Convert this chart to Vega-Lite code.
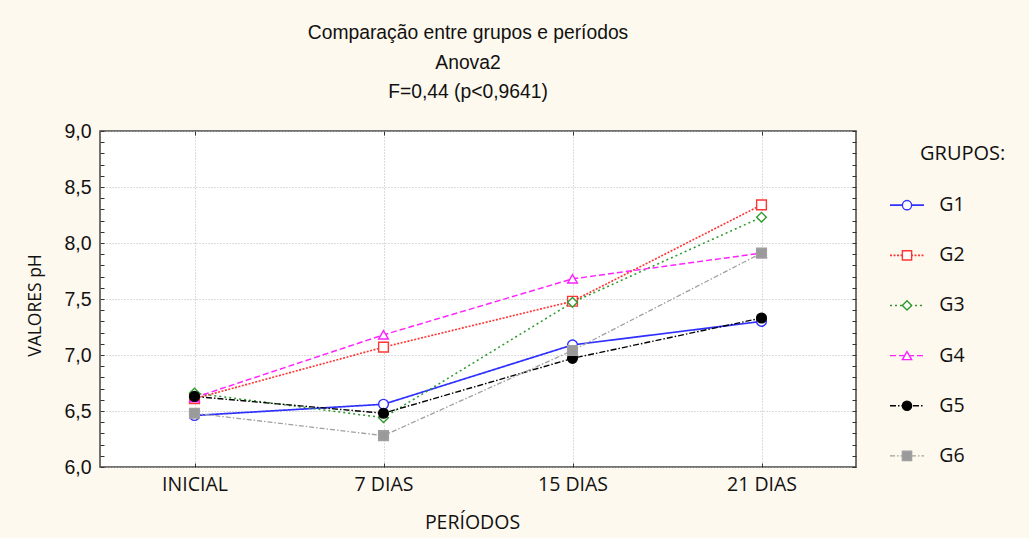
{
  "$schema": "https://vega.github.io/schema/vega-lite/v6.json",
  "autosize": "none",
  "padding": {"left": 100, "top": 131, "right": 929, "bottom": 71},
  "background": "#fef9ee",
  "bounds": "flush",
  "spacing": 0,
  "datasets": {
    "ph": [
      {"periodo": "INICIAL", "grupo": "G1", "ph": 6.46},
      {"periodo": "7 DIAS", "grupo": "G1", "ph": 6.56},
      {"periodo": "15 DIAS", "grupo": "G1", "ph": 7.09},
      {"periodo": "21 DIAS", "grupo": "G1", "ph": 7.30},
      {"periodo": "INICIAL", "grupo": "G2", "ph": 6.61},
      {"periodo": "7 DIAS", "grupo": "G2", "ph": 7.07},
      {"periodo": "15 DIAS", "grupo": "G2", "ph": 7.48},
      {"periodo": "21 DIAS", "grupo": "G2", "ph": 8.34},
      {"periodo": "INICIAL", "grupo": "G3", "ph": 6.66},
      {"periodo": "7 DIAS", "grupo": "G3", "ph": 6.44},
      {"periodo": "15 DIAS", "grupo": "G3", "ph": 7.47},
      {"periodo": "21 DIAS", "grupo": "G3", "ph": 8.23},
      {"periodo": "INICIAL", "grupo": "G4", "ph": 6.62},
      {"periodo": "7 DIAS", "grupo": "G4", "ph": 7.18},
      {"periodo": "15 DIAS", "grupo": "G4", "ph": 7.68},
      {"periodo": "21 DIAS", "grupo": "G4", "ph": 7.91},
      {"periodo": "INICIAL", "grupo": "G5", "ph": 6.63},
      {"periodo": "7 DIAS", "grupo": "G5", "ph": 6.48},
      {"periodo": "15 DIAS", "grupo": "G5", "ph": 6.97},
      {"periodo": "21 DIAS", "grupo": "G5", "ph": 7.33},
      {"periodo": "INICIAL", "grupo": "G6", "ph": 6.48},
      {"periodo": "7 DIAS", "grupo": "G6", "ph": 6.28},
      {"periodo": "15 DIAS", "grupo": "G6", "ph": 7.04},
      {"periodo": "21 DIAS", "grupo": "G6", "ph": 7.91}
    ],
    "grupos": [
      {"grupo": "G1"}, {"grupo": "G2"}, {"grupo": "G3"},
      {"grupo": "G4"}, {"grupo": "G5"}, {"grupo": "G6"}
    ]
  },
  "hconcat": [
    {
      "width": 756,
      "height": 336,
      "title": {
        "text": ["Comparação entre grupos e períodos", "Anova2", "F=0,44 (p<0,9641)"],
        "font": "Liberation Sans",
        "fontSize": 19.3,
        "fontWeight": "normal",
        "lineHeight": 29.5,
        "color": "#111111",
        "frame": "group",
        "anchor": "middle",
        "dx": -10,
        "offset": 18.5
      },
      "view": {"fill": "white", "stroke": "#444444", "strokeWidth": 1.5},
      "data": {"name": "ph"},
      "layer": [
        {
          "mark": {"type": "line"},
          "encoding": {
            "x": {
              "field": "periodo", "type": "ordinal",
              "sort": ["INICIAL", "7 DIAS", "15 DIAS", "21 DIAS"],
              "scale": {"type": "point", "padding": 0.5},
              "axis": {
                "orient": "bottom", "title": "PERÍODOS", "labelAngle": 0,
                "domain": false, "tickSize": -4, "tickColor": "#333333",
                "grid": true, "gridDash": [1, 2], "gridColor": "#b8b8b8", "gridWidth": 1,
                "labelFont": "Open Sans", "labelFontSize": 19.5, "labelColor": "#111111", "labelPadding": 12,
                "titleFont": "Open Sans", "titleFontSize": 19.5, "titleFontWeight": "normal", "titleColor": "#111111", "titlePadding": 20,
                "titleX": 372
              }
            },
            "y": {
              "field": "ph", "type": "quantitative",
              "scale": {"domain": [6, 9], "nice": false, "zero": false},
              "axis": {
                "orient": "left", "title": "VALORES pH",
                "values": [6.0, 6.1, 6.2, 6.3, 6.4, 6.5, 6.6, 6.7, 6.8, 6.9, 7.0, 7.1, 7.2, 7.3, 7.4, 7.5, 7.6, 7.7, 7.8, 7.9, 8.0, 8.1, 8.2, 8.3, 8.4, 8.5, 8.6, 8.7, 8.8, 8.9, 9.0],
                "labelExpr": "abs(datum.value*2 - round(datum.value*2)) < 0.01 ? replace(format(datum.value, '.1f'), '.', ',') : ''",
                "labelOverlap": false,
                "domain": false, "tickSize": -4, "tickColor": "#333333",
                "grid": true, "gridDash": [1, 2], "gridColor": "#b8b8b8",
                "gridOpacity": {"condition": {"test": "abs(datum.value*2 - round(datum.value*2)) < 0.01", "value": 1}, "value": 0},
                "labelFont": "Liberation Sans", "labelFontSize": 19.5, "labelColor": "#111111", "labelPadding": 13,
                "titleFont": "Open Sans", "titleFontSize": 17.5, "titleFontWeight": "normal", "titleColor": "#111111", "titlePadding": 19,
                "titleY": 174
              }
            },
            "color": {
              "field": "grupo", "type": "nominal",
              "scale": {"domain": ["G1", "G2", "G3", "G4", "G5", "G6"], "range": ["#3030ff", "#ff3535", "#2e9a2e", "#ff22ff", "#000000", "#a0a0a0"]},
              "legend": null
            },
            "strokeDash": {
              "field": "grupo", "type": "nominal",
              "scale": {"domain": ["G1", "G2", "G3", "G4", "G5", "G6"], "range": [[1, 0], [2, 1.5], [2, 3], [6, 3], [6, 2, 1.5, 2], [5, 2, 1.5, 2]]},
              "legend": null
            },
            "strokeWidth": {
              "field": "grupo", "type": "ordinal",
              "scale": {"domain": ["G1", "G2", "G3", "G4", "G5", "G6"], "range": [1.7, 1.3, 1.5, 1.4, 1.4, 1.1]},
              "legend": null
            }
          }
        },
        {
          "mark": {"type": "point", "size": 95, "filled": false, "opacity": 1, "fillOpacity": 1, "strokeWidth": 1.4},
          "encoding": {
            "x": {
              "field": "periodo", "type": "ordinal",
              "sort": ["INICIAL", "7 DIAS", "15 DIAS", "21 DIAS"],
              "scale": {"type": "point", "padding": 0.5},
              "axis": {"orient": "top", "title": null, "labels": false, "domain": false, "grid": false, "tickSize": -4, "tickColor": "#333333"}
            },
            "y": {
              "field": "ph", "type": "quantitative",
              "scale": {"domain": [6, 9], "nice": false, "zero": false},
              "axis": {
                "orient": "right", "title": null, "labels": false, "domain": false, "grid": false, "tickSize": -4, "tickColor": "#333333",
                "values": [6.0, 6.1, 6.2, 6.3, 6.4, 6.5, 6.6, 6.7, 6.8, 6.9, 7.0, 7.1, 7.2, 7.3, 7.4, 7.5, 7.6, 7.7, 7.8, 7.9, 8.0, 8.1, 8.2, 8.3, 8.4, 8.5, 8.6, 8.7, 8.8, 8.9, 9.0]
              }
            },
            "color": {"field": "grupo", "type": "nominal", "legend": null},
            "shape": {
              "field": "grupo", "type": "nominal",
              "scale": {"domain": ["G1", "G2", "G3", "G4", "G5", "G6"], "range": ["circle", "square", "diamond", "triangle-up", "circle", "square"]},
              "legend": null
            },
            "fill": {
              "field": "grupo", "type": "nominal",
              "scale": {"domain": ["G1", "G2", "G3", "G4", "G5", "G6"], "range": ["#ffffff", "#ffffff", "#ffffff", "#ffffff", "#000000", "#9a9a9a"]},
              "legend": null
            }
          }
        }
      ],
      "resolve": {"axis": {"x": "independent", "y": "independent"}}
    },
    {
      "width": 170,
      "height": 336,
      "view": {"stroke": null},
      "data": {"name": "grupos"},
      "title": {
        "text": "GRUPOS:",
        "font": "Open Sans",
        "fontSize": 20,
        "fontWeight": "normal",
        "color": "#111111",
        "frame": "group",
        "anchor": "start",
        "dx": 64,
        "offset": -33
      },
      "encoding": {
        "y": {
          "field": "grupo", "type": "nominal",
          "scale": {"type": "point", "domain": ["G1", "G2", "G3", "G4", "G5", "G6"], "padding": 0.85, "align": 0.87},
          "axis": null
        }
      },
      "layer": [
        {
          "mark": {"type": "rule"},
          "encoding": {
            "x": {"datum": 2, "type": "quantitative", "scale": {"domain": [0, 10]}, "axis": null},
            "x2": {"datum": 4},
            "color": {"field": "grupo", "type": "nominal", "legend": null},
            "strokeDash": {"field": "grupo", "type": "nominal", "legend": null},
            "strokeWidth": {"field": "grupo", "type": "ordinal", "legend": null}
          }
        },
        {
          "mark": {"type": "point", "size": 85, "filled": false, "opacity": 1, "fillOpacity": 1, "strokeWidth": 1.4},
          "encoding": {
            "x": {"datum": 3, "type": "quantitative", "scale": {"domain": [0, 10]}, "axis": null},
            "color": {"field": "grupo", "type": "nominal", "legend": null},
            "shape": {"field": "grupo", "type": "nominal", "legend": null},
            "fill": {"field": "grupo", "type": "nominal", "legend": null}
          }
        },
        {
          "mark": {"type": "text", "align": "left", "baseline": "middle", "font": "Open Sans", "fontSize": 19.5, "color": "#111111"},
          "encoding": {
            "x": {"datum": 4.9, "type": "quantitative", "scale": {"domain": [0, 10]}, "axis": null},
            "text": {"field": "grupo"}
          }
        }
      ]
    }
  ]
}
